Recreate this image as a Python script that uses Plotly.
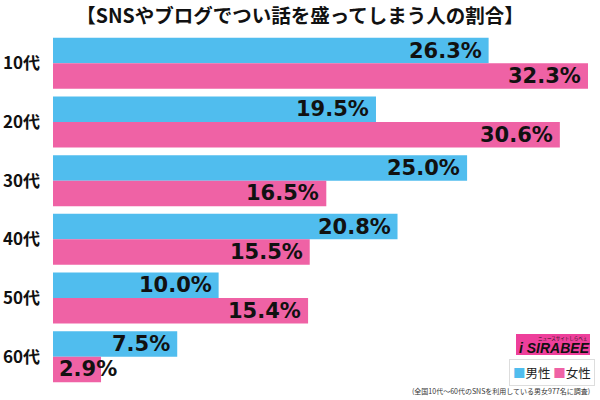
import plotly.graph_objects as go

categories = ["10代", "20代", "30代", "40代", "50代", "60代"]
male = [26.3, 19.5, 25.0, 20.8, 10.0, 7.5]
female = [32.3, 30.6, 16.5, 15.5, 15.4, 2.9]
series_names = ["男性", "女性"]
title_text = "【SNSやブログでつい話を盛ってしまう人の割合】"
note_text = "(全国10代～60代のSNSを利用している男女977名に調査)"

BLUE = "#50BDEE"
PINK = "#EF62A5"

L, R, T, B = 53, 12, 34, 14
PW, PH = 600 - L - R, 400 - T - B


def px(x):
    return (x - L) / PW


def py(y):
    return (400 - B - y) / PH


fig = go.Figure()
fig.add_trace(go.Bar(y=categories, x=male, orientation="h", name=series_names[0],
                     marker=dict(color=BLUE, line=dict(width=0)), showlegend=False))
fig.add_trace(go.Bar(y=categories, x=female, orientation="h", name=series_names[1],
                     marker=dict(color=PINK, line=dict(width=0)), showlegend=False))

annotations = []
for vals, off in ((male, -0.2175), (female, 0.2175)):
    for i, (c, v) in enumerate(zip(categories, vals)):
        big = v >= 6
        annotations.append(dict(
            x=v if big else 0, y=i + off, xref="x", yref="y",
            text=f"<b>{v:.1f}%</b>", showarrow=False,
            xanchor="right" if big else "left", yanchor="middle",
            xshift=-5 if big else 4,
            font=dict(family="DejaVu Sans", size=21, color="#111111")))

fig.update_layout(
    width=600, height=400,
    margin=dict(l=L, r=R, t=T, b=B),
    plot_bgcolor="white", paper_bgcolor="white",
    barmode="group", bargap=0.13, bargroupgap=0,
    xaxis=dict(range=[0, 32.3], visible=False, fixedrange=True, automargin=False),
    yaxis=dict(autorange="reversed", showgrid=False, zeroline=False, showline=False,
               ticks="", ticklabelstandoff=12, automargin=False,
               tickfont=dict(family="Noto Sans CJK JP", size=17, color="#111111"),
               tickmode="array", tickvals=categories,
               ticktext=[f"<b>{c}</b>" for c in categories]),
    title=dict(text=f"<b>{title_text}</b>", x=0.5, xanchor="center", y=0.96, yanchor="middle",
               font=dict(family="Noto Sans CJK JP", size=19.5, color="#111111")),
    annotations=annotations,
    showlegend=False,
)

fig.add_shape(type="rect", xref="paper", yref="paper",
              x0=px(516), x1=px(590), y0=py(355), y1=py(334),
              fillcolor="#EE3F9B", line=dict(width=0), layer="above")
fig.add_annotation(xref="paper", yref="paper", x=px(554), y=py(348),
                   text="<b><i>i SIRABEE</i></b>", showarrow=False,
                   font=dict(family="Liberation Sans", size=14, color="#111111"),
                   xanchor="center", yanchor="middle", borderpad=0)
fig.add_annotation(xref="paper", yref="paper", x=px(588), y=py(338),
                   text="ニュースサイトしらべぇ", showarrow=False,
                   font=dict(family="Noto Sans CJK JP", size=4.5, color="#111111"),
                   xanchor="right", yanchor="middle", borderpad=0)
fig.add_annotation(xref="paper", yref="paper", x=px(552), y=py(372),
                   text=f"<span style='color:{BLUE}'>■</span>{series_names[0]} "
                        f"<span style='color:{PINK}'>■</span>{series_names[1]}",
                   showarrow=False, xanchor="center", yanchor="middle",
                   bordercolor="#DDDDDD", borderwidth=1, borderpad=3, bgcolor="white",
                   font=dict(family="Noto Sans CJK JP", size=12.5, color="#222222"))
fig.add_annotation(xref="paper", yref="paper", x=px(592), y=py(391),
                   text=note_text, showarrow=False, xanchor="right", yanchor="middle",
                   font=dict(family="Noto Sans CJK JP", size=7, color="#333333"))

fig.write_html("out.html", config={"displayModeBar": False},
               post_script="document.body.style.margin='0';document.body.style.padding='0';")
